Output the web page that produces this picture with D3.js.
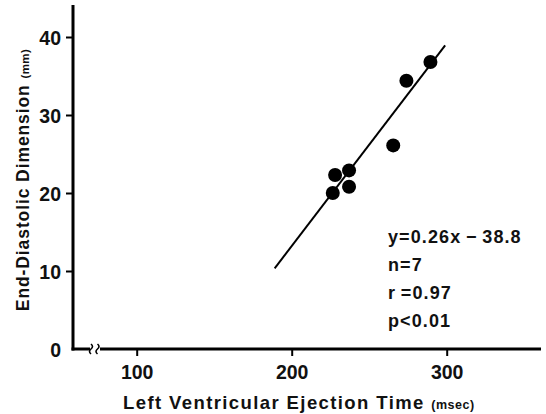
<!doctype html>
<html lang="en">
<head>
<meta charset="utf-8">
<title>LVET vs End-Diastolic Dimension</title>
<script src="https://cdn.jsdelivr.net/npm/d3@7"></script>
<style>
  html, body { margin: 0; padding: 0; background: #fff; }
  svg { display: block; }
  text { font-family: "Liberation Sans", Arial, sans-serif; font-weight: bold; fill: #111; }
</style>
</head>
<body>
<svg id="chart" width="546" height="414"></svg>
<script>
// data
var lvet = [226.5, 228, 237, 237, 265.5, 274, 289.5];   // msec
var edd  = [20.0, 22.3, 22.9, 20.8, 26.1, 34.4, 36.8];  // mm
var xTicks = [100, 200, 300];
var yTicks = [0, 10, 20, 30, 40];
var fitRange = [189, 299];
var slope = 0.26, intercept = -38.8;
var stats = ["y=0.26x\u2009\u2212\u200938.8", "n=7", "r\u2009=0.97", "p<0.01"];

var svg = d3.select("#chart");
var x = d3.scaleLinear().domain([100, 300]).range([136.7, 446.7]);
var y = d3.scaleLinear().domain([0, 40]).range([349, 37]);
var x0 = 73, y0 = 349;

// axes lines (drawn by hand because of the break)
svg.append("line").attr("x1", x0).attr("x2", x0).attr("y1", 5).attr("y2", y0 + 1.5)
  .attr("stroke", "#000").attr("stroke-width", 3);
svg.append("line").attr("x1", x0 - 1.5).attr("x2", 90).attr("y1", y0).attr("y2", y0)
  .attr("stroke", "#000").attr("stroke-width", 3);
svg.append("line").attr("x1", 100).attr("x2", 541).attr("y1", y0).attr("y2", y0)
  .attr("stroke", "#000").attr("stroke-width", 3);
// break marks
[91, 97.5].forEach(function(bx) {
  svg.append("path")
    .attr("d", "M" + bx + "," + (y0 - 5) + " q3,2.5 0,5 q-3,2.5 0,5")
    .attr("fill", "none").attr("stroke", "#000").attr("stroke-width", 1.6);
});

// y axis ticks
var yAxis = svg.append("g").attr("transform", "translate(" + x0 + ",0)")
  .call(d3.axisLeft(y).tickValues(yTicks).tickSize(7).tickPadding(5));
yAxis.select(".domain").remove();
yAxis.selectAll(".tick line").attr("stroke", "#000").attr("stroke-width", 2);
yAxis.selectAll(".tick").filter(function(d) { return d === 0; }).select("line").remove();
yAxis.selectAll(".tick text").style("font-size", "19.5px").attr("dy", "0.36em")
  .style("font-family", "Liberation Sans, Arial, sans-serif").style("font-weight", "bold");

// x axis ticks
var xAxis = svg.append("g").attr("transform", "translate(0," + y0 + ")")
  .call(d3.axisBottom(x).tickValues(xTicks).tickSize(7).tickPadding(9));
xAxis.select(".domain").remove();
xAxis.selectAll(".tick line").attr("stroke", "#000").attr("stroke-width", 2);
xAxis.selectAll(".tick text").style("font-size", "19.5px")
  .style("font-family", "Liberation Sans, Arial, sans-serif").style("font-weight", "bold");

// axis titles
var xt = svg.append("text").attr("x", 123).attr("y", 409)
  .style("font-size", "18.5px").style("letter-spacing", "1.4px");
xt.append("tspan").text("Left Ventricular Ejection Time ");
xt.append("tspan").style("font-size", "12.5px").style("letter-spacing", "0.5px").text("(msec)");

var yt = svg.append("text").attr("transform", "translate(29,180) rotate(-90)")
  .attr("text-anchor", "middle").style("font-size", "17.5px").style("letter-spacing", "0.9px");
yt.append("tspan").text("End-Diastolic Dimension ");
yt.append("tspan").style("font-size", "11.5px").style("letter-spacing", "0.4px").text("(mm)");

// regression line
svg.append("line")
  .attr("x1", x(fitRange[0])).attr("y1", y(slope * fitRange[0] + intercept))
  .attr("x2", x(fitRange[1])).attr("y2", y(slope * fitRange[1] + intercept))
  .attr("stroke", "#000").attr("stroke-width", 2);

// points
svg.selectAll("circle.pt").data(lvet).enter().append("circle")
  .attr("class", "pt")
  .attr("cx", function(d) { return x(d); })
  .attr("cy", function(d, i) { return y(edd[i]); })
  .attr("r", 7).attr("fill", "#000");

// statistics
svg.selectAll("text.stat").data(stats).enter().append("text")
  .attr("class", "stat")
  .attr("x", 388).attr("y", function(d, i) { return 243 + i * 28; })
  .style("font-size", "18px").style("letter-spacing", "1.1px")
  .text(function(d) { return d; });
</script>
</body>
</html>
